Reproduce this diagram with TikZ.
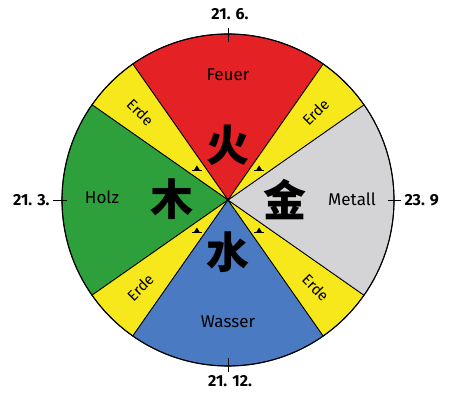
\documentclass[tikz,border=0pt]{standalone}
\usepackage{fontspec}
\usetikzlibrary{calc}
\setmainfont{Fira Sans}
\newfontfamily\cjk{Noto Sans CJK SC}
\definecolor{cfire}{HTML}{E42125}
\definecolor{cearth}{HTML}{F6E81A}
\definecolor{cwood}{HTML}{2EA03B}
\definecolor{cmetal}{HTML}{D4D4D6}
\definecolor{cwater}{HTML}{4A7BC2}
\begin{document}
\begin{tikzpicture}[x=1pt,y=1pt,
  wedge/.style={draw=black,line width=0.8pt,line join=round},
  lbl/.style={font=\fontsize{17}{17}\selectfont},
  erde/.style={font=\fontsize{15}{15}\selectfont,inner sep=0pt},
  date/.style={font=\fontsize{16}{16}\selectfont\bfseries},
  glyph/.style={font=\cjk\bfseries\fontsize{43}{43}\selectfont},
  tick/.style={line width=0.9pt},
  earthtri/.style={fill=black}]
\useasboundingbox (0,0) rectangle (450,393);
\fill[white] (0,0) rectangle (450,393);
\coordinate (c) at (228,193);
\def\R{166}
% main wedges
\filldraw[wedge,fill=cfire]  (c) -- ++(55:\R) arc[start angle=55,end angle=125,radius=\R] -- cycle;
\filldraw[wedge,fill=cearth] (c) -- ++(125:\R) arc[start angle=125,end angle=145,radius=\R] -- cycle;
\filldraw[wedge,fill=cwood]  (c) -- ++(145:\R) arc[start angle=145,end angle=215,radius=\R] -- cycle;
\filldraw[wedge,fill=cearth] (c) -- ++(215:\R) arc[start angle=215,end angle=235,radius=\R] -- cycle;
\filldraw[wedge,fill=cwater] (c) -- ++(235:\R) arc[start angle=235,end angle=305,radius=\R] -- cycle;
\filldraw[wedge,fill=cearth] (c) -- ++(305:\R) arc[start angle=305,end angle=325,radius=\R] -- cycle;
\filldraw[wedge,fill=cmetal] (c) -- ++(-35:\R) arc[start angle=-35,end angle=35,radius=\R] -- cycle;
\filldraw[wedge,fill=cearth] (c) -- ++(35:\R) arc[start angle=35,end angle=55,radius=\R] -- cycle;
\draw[line width=1.1pt] (c) circle[radius=\R];
% element names
\node[lbl] (feuer) at (228,318) {Feuer};
\node[lbl] (holz) at (102,196) {Holz};
\node[lbl] (metall) at (352,194) {Metall};
\node[lbl] (wasser) at (228,71) {Wasser};
% Erde labels
\node[erde,rotate=-45] (e1) at ($(c)+(135:124)$) {Erde};
\node[erde,rotate=45]  (e2) at ($(c)+(45:124)$) {Erde};
\node[erde,rotate=45]  (e3) at ($(c)+(225:124)$) {Erde};
\node[erde,rotate=-45] (e4) at ($(c)+(315:124)$) {Erde};
% Chinese characters
\node[glyph] (huo) at (228,248) {火};
\node[glyph] (mu) at (172,194) {木};
\node[glyph] (jin) at (285,193) {金};
\node[glyph] (shui) at (228,141) {水};
% small earth marks (triangle on a base line)
\foreach \a/\n in {135/t1,45/t2,225/t3,315/t4}{
  \coordinate (\n) at ($(c)+(\a:44)$);
  \fill[earthtri] ($(\n)+(-2.8,-1)$) -- ($(\n)+(2.8,-1)$) -- ($(\n)+(0,3.5)$) -- cycle;
  \draw[line width=0.8pt] ($(\n)+(-5,-1.5)$) -- ($(\n)+(5,-1.5)$);
}
% date labels and ticks
\node[date] (d1) at (230,379) {21. 6.};
\node[date,anchor=east] (d2) at (53,193) {21. 3.};
\node[date,anchor=west] (d3) at (401,193) {23. 9};
\node[date] (d4) at (230,12) {21. 12.};
\coordinate (tt1) at (228,\R+193+6);
\coordinate (tt2) at (228,\R+193-8);
\draw[tick] (tt1) -- (tt2);
\coordinate (tl2) at (228-\R+5,193);
\draw[tick] (d2.east) -- (tl2);
\coordinate (tr2) at (228+\R-6,193);
\draw[tick] (d3.west) -- (tr2);
\coordinate (tb1) at (228,193-\R-6);
\coordinate (tb2) at (228,193-\R+8);
\draw[tick] (tb1) -- (tb2);
\end{tikzpicture}
\end{document}
